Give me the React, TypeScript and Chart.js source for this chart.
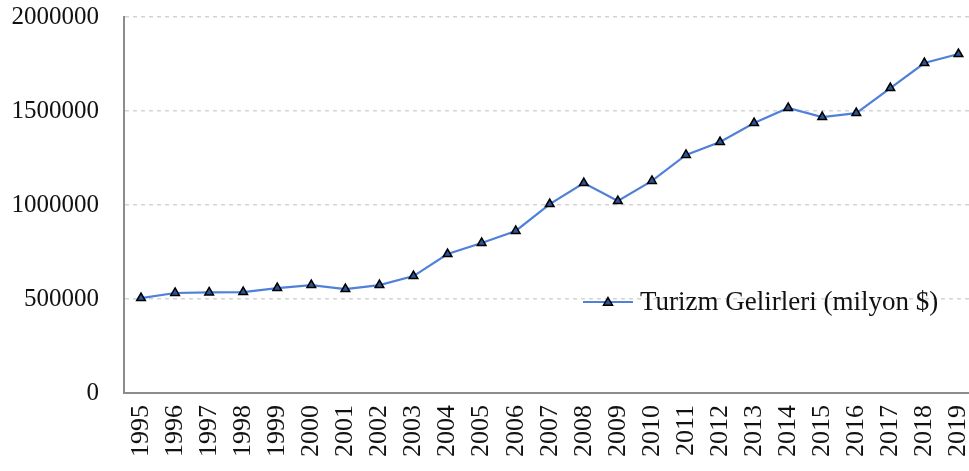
import React, { useEffect, useRef } from "react";
import { Chart, registerables } from "chart.js";

Chart.register(...registerables);

const years = ["1995","1996","1997","1998","1999","2000","2001","2002","2003","2004","2005","2006","2007","2008","2009","2010","2011","2012","2013","2014","2015","2016","2017","2018","2019"];
const revenues = [505000,532000,535000,537000,558000,574000,553000,574000,622000,739000,798000,862000,1005000,1117000,1021000,1128000,1266000,1335000,1436000,1516000,1468000,1489000,1622000,1755000,1803000];
const seriesLabel = "Turizm Gelirleri (milyon $)";
const yTicks = [0, 500000, 1000000, 1500000, 2000000];

const FONT = "'Liberation Serif', 'DejaVu Serif', serif";
const LINE = "#4f81d8";
const FILL = "#2f5496";

const legendPlugin = {
  id: "insideLegend",
  afterDraw(chart: any) {
    const { ctx, chartArea } = chart;
    const x0 = 583;
    const y = chartArea.top + (chartArea.bottom - chartArea.top) * 0.758;
    ctx.save();
    ctx.strokeStyle = LINE;
    ctx.lineWidth = 2;
    ctx.beginPath();
    ctx.moveTo(x0, y);
    ctx.lineTo(x0 + 50, y);
    ctx.stroke();
    const cx = x0 + 25;
    const r = 4.5;
    ctx.fillStyle = FILL;
    ctx.strokeStyle = "#000";
    ctx.lineWidth = 1.5;
    ctx.beginPath();
    ctx.moveTo(cx, y - r);
    ctx.lineTo(cx + r, y + r * 0.7);
    ctx.lineTo(cx - r, y + r * 0.7);
    ctx.closePath();
    ctx.fill();
    ctx.stroke();
    ctx.fillStyle = "#111";
    ctx.font = `27px ${FONT}`;
    ctx.textBaseline = "middle";
    ctx.textAlign = "left";
    ctx.fillText(seriesLabel, x0 + 57, y + 1);
    ctx.restore();
  },
};

export default function App() {
  const ref = useRef<HTMLCanvasElement | null>(null);
  useEffect(() => {
    document.body.style.margin = "0";
    const chart = new Chart(ref.current!, {
      type: "line",
      data: {
        labels: years,
        datasets: [
          {
            label: seriesLabel,
            data: revenues,
            borderColor: LINE,
            borderWidth: 2.2,
            backgroundColor: FILL,
            pointStyle: "triangle",
            pointRadius: 5,
            pointBorderColor: "#000",
            pointBorderWidth: 1.5,
            pointBackgroundColor: FILL,
            tension: 0,
          },
        ],
      },
      options: {
        animation: false,
        responsive: false,
        layout: { padding: { top: 17, right: 0, left: 0, bottom: 0 } },
        plugins: { legend: { display: false }, tooltip: { enabled: false } },
        scales: {
          x: {
            offset: true,
            grid: { display: false, drawTicks: false },
            border: { display: true, color: "#8c8c8c", width: 2 },
            ticks: {
              color: "#111",
              font: { family: FONT, size: 26 },
              minRotation: 90,
              maxRotation: 90,
              padding: 12,
              autoSkip: false,
            },
            afterFit(scale: any) {
              scale.height = 78;
              scale.paddingLeft = 0;
              scale.paddingRight = 0;
              scale.paddingTop = 0;
              scale.paddingBottom = 0;
            },
          },
          y: {
            min: 0,
            max: 2000000,
            afterBuildTicks(scale: any) {
              scale.ticks = yTicks.map((v) => ({ value: v }));
            },
            grid: {
              color: "#d4d4d4",
              lineWidth: 1.5,
              drawTicks: false,
            },
            border: { display: true, color: "#8c8c8c", width: 2, dash: [4, 4] as any },
            ticks: {
              color: "#111",
              font: { family: FONT, size: 25 },
              padding: 25,
              callback: (v: any) => String(v),
            },
            afterFit(scale: any) {
              scale.width = 124;
              scale.paddingLeft = 0;
              scale.paddingRight = 0;
              scale.paddingTop = 0;
              scale.paddingBottom = 0;
            },
          },
        },
      },
      plugins: [legendPlugin],
    });
    return () => chart.destroy();
  }, []);
  return (
    <div style={{ width: 969, height: 471, overflow: "hidden" }}>
      <canvas ref={ref} width={982} height={471} style={{ display: "block" }} />
    </div>
  );
}
